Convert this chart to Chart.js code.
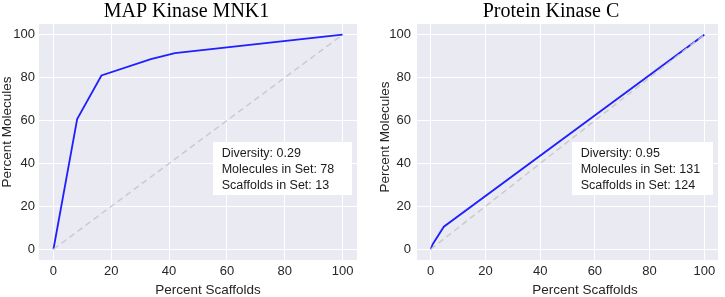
<!DOCTYPE html>
<html>
<head>
<meta charset="utf-8">
<script src="https://cdn.jsdelivr.net/npm/chart.js@4.4.1/dist/chart.umd.min.js"></script>
<style>
  html, body { margin: 0; padding: 0; background: #ffffff; }
  #wrap { position: relative; width: 725px; height: 297px; overflow: hidden; }
  canvas { position: absolute; top: 0; }
</style>
</head>
<body>
<div id="wrap">
  <canvas id="c1" width="362" height="297" style="left:0;width:362px;height:297px"></canvas>
  <canvas id="c2" width="363" height="297" style="left:362px;width:363px;height:297px"></canvas>
</div>
<script>
// ---- data ----
const tickValues = [0, 20, 40, 60, 80, 100];
const diagX = [0, 100];
const diagY = [0, 100];

const mnk1Title = "MAP Kinase MNK1";
const mnk1X = [0, 8.2, 16.6, 33.7, 42, 100];
const mnk1Y = [0, 60.7, 81, 88.6, 91.4, 100];
const mnk1Info = ["Diversity: 0.29", "Molecules in Set: 78", "Scaffolds in Set: 13"];

const pkcTitle = "Protein Kinase C";
const pkcX = [0, 0.8, 4.8, 100];
const pkcY = [0, 2.5, 10.5, 100];
const pkcInfo = ["Diversity: 0.95", "Molecules in Set: 131", "Scaffolds in Set: 124"];

const xAxisTitle = "Percent Scaffolds";
const yAxisTitle = "Percent Molecules";

// ---- helpers ----
const SANS = "'Liberation Sans', Arial, sans-serif";
const SERIF = "'Liberation Serif', 'Times New Roman', serif";
const TXT = '#262626';

function pts(xs, ys) { return xs.map((x, i) => ({ x: x, y: ys[i] })); }

const decorPlugin = {
  id: 'decor',
  beforeDraw(chart) {
    const a = chart.chartArea, ctx = chart.ctx;
    ctx.save();
    ctx.fillStyle = '#EAEAF2';
    ctx.fillRect(a.left, a.top, a.right - a.left, a.bottom - a.top);
    ctx.restore();
  },
  afterDraw(chart) {
    const o = chart.options.plugins.decor, ctx = chart.ctx;
    ctx.save();
    // title
    ctx.fillStyle = '#000';
    ctx.font = '20px ' + SERIF;
    ctx.textAlign = 'center';
    ctx.textBaseline = 'alphabetic';
    ctx.fillText(o.title, o.titleX, 16.5);
    // x axis title
    ctx.fillStyle = TXT;
    ctx.font = '13.5px ' + SANS;
    ctx.fillText(xAxisTitle, o.xTitleX, 293.5);
    // y axis title
    ctx.save();
    ctx.translate(o.yTitleX, o.yTitleY);
    ctx.rotate(-Math.PI / 2);
    ctx.textBaseline = 'middle';
    ctx.fillText(yAxisTitle, 0, 0);
    ctx.restore();
    // info box
    ctx.fillStyle = '#ffffff';
    ctx.fillRect(o.box[0], o.box[1], o.box[2], o.box[3]);
    ctx.fillStyle = '#1a1a1a';
    ctx.font = '12.5px ' + SANS;
    ctx.textAlign = 'left';
    ctx.textBaseline = 'alphabetic';
    o.info.forEach((t, i) => ctx.fillText(t, o.textX, 157.3 + i * 15.9));
    ctx.restore();
  }
};

function makeChart(id, xs, ys, decor, yWidth, rightPad, tickPad) {
  return new Chart(document.getElementById(id), {
    type: 'scatter',
    data: {
      datasets: [
        {
          data: pts(xs, ys), showLine: true, borderColor: '#1f1fff',
          borderWidth: 1.8, pointRadius: 0, pointHoverRadius: 0, order: 2, tension: 0
        },
        {
          data: pts(diagX, diagY), showLine: true, borderColor: 'rgba(200,200,200,0.9)',
          borderWidth: 1.5, borderDash: [6, 4], pointRadius: 0, pointHoverRadius: 0, order: 1
        }
      ]
    },
    options: {
      responsive: false,
      animation: false,
      events: [],
      layout: { padding: { top: 24, right: rightPad, left: 0, bottom: 0 } },
      plugins: { legend: { display: false }, tooltip: { enabled: false }, title: { display: false }, decor: decor },
      scales: {
        x: {
          type: 'linear', min: -5, max: 105,
          afterBuildTicks: s => { s.ticks = tickValues.map(v => ({ value: v })); },
          afterFit: s => { s.height = 37; },
          grid: { color: '#ffffff', lineWidth: 1, drawTicks: false },
          border: { display: false },
          ticks: { color: TXT, font: { family: SANS, size: 13 }, padding: 4, maxRotation: 0, autoSkip: false }
        },
        y: {
          type: 'linear', min: -5, max: 105,
          afterBuildTicks: s => { s.ticks = tickValues.map(v => ({ value: v })); },
          afterFit: s => { s.width = yWidth; },
          grid: { color: '#ffffff', lineWidth: 1, drawTicks: false },
          border: { display: false },
          ticks: { color: TXT, font: { family: SANS, size: 13 }, padding: tickPad, autoSkip: false }
        }
      }
    },
    plugins: [decorPlugin]
  });
}

makeChart('c1', mnk1X, mnk1Y, {
  title: mnk1Title, titleX: 186.5, xTitleX: 208, yTitleX: 7.5, yTitleY: 132,
  box: [213, 142, 139, 53], textX: 221.7, info: mnk1Info
}, 39, 5, 4);

makeChart('c2', pkcX, pkcY, {
  title: pkcTitle, titleX: 189, xTitleX: 223, yTitleX: 23, yTitleY: 137,
  box: [210, 142, 141, 53], textX: 218.7, info: pkcInfo
}, 55, 7, 6);
</script>
</body>
</html>
